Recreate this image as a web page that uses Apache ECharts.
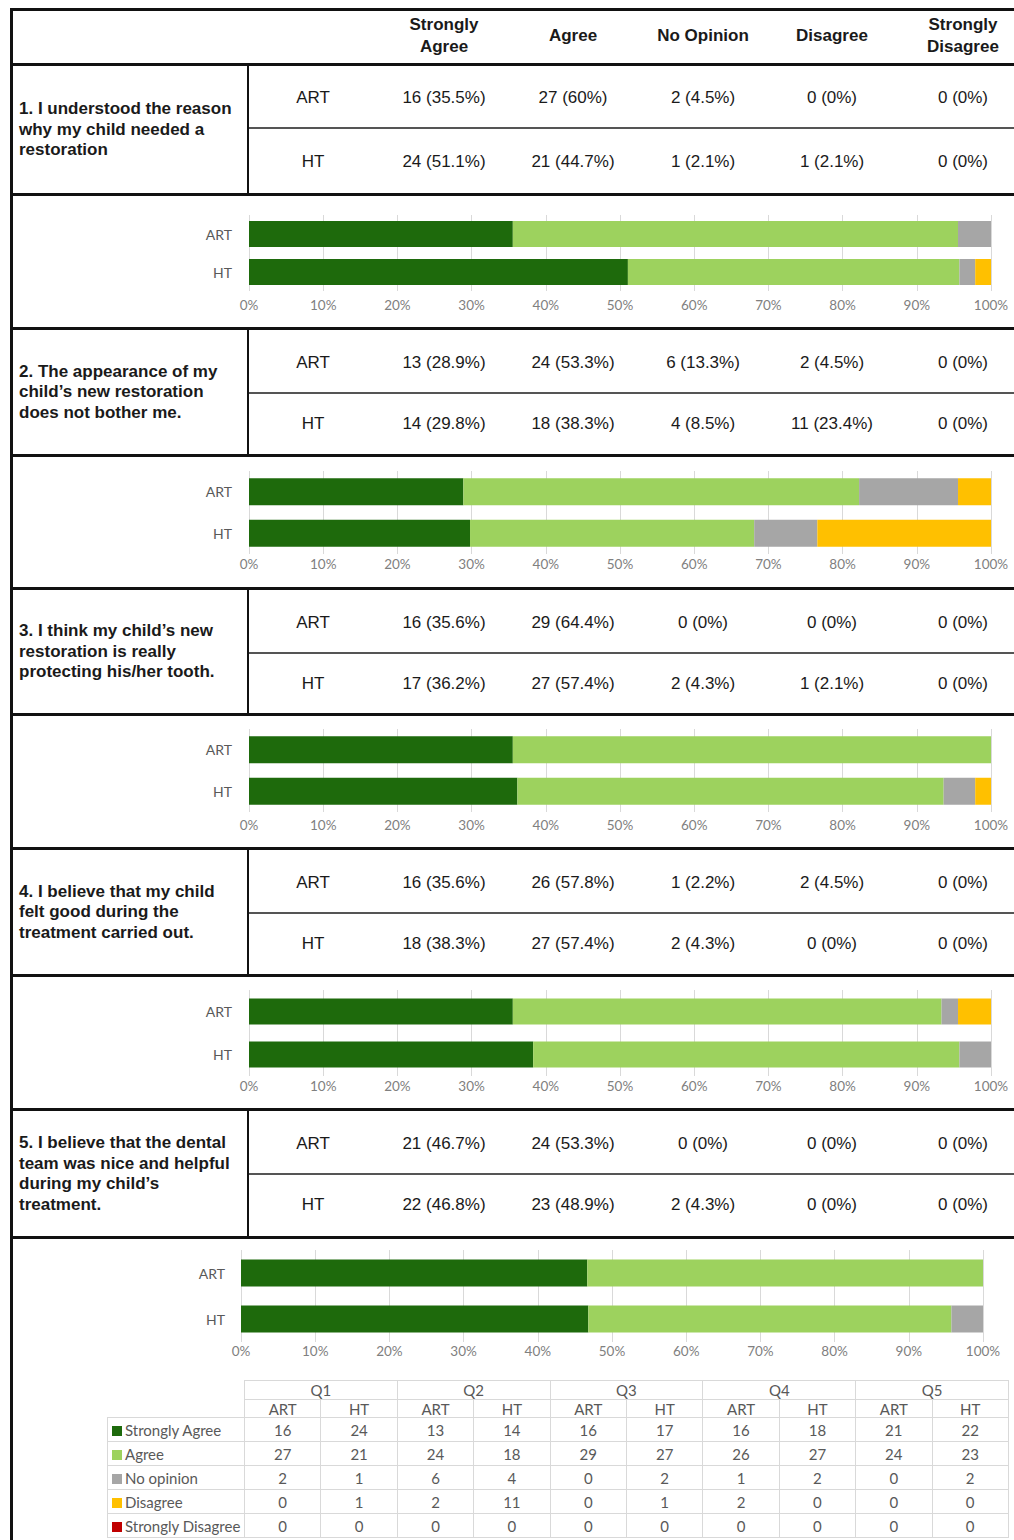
<!DOCTYPE html>
<html>
<head>
<meta charset="utf-8">
<title>Parents' satisfaction ART vs HT</title>
<script src="https://cdn.jsdelivr.net/npm/echarts@6/dist/echarts.min.js"></script>
<style>
body { margin: 0; background: #fff; }
#page {
  position: relative; width: 1014px; height: 1540px; overflow: hidden; background: #fff;
  font-family: "Liberation Sans", Arial, sans-serif; color: #1a1a1a;
}
.ln { position: absolute; background: #111; }
.t { position: absolute; text-align: center; white-space: pre; font-size: 17px; line-height: 22px; }
.hd { font-weight: bold; line-height: 22px; }
.q { position: absolute; display: flex; align-items: center; font-weight: bold; font-size: 17px; line-height: 20.5px; white-space: pre; }
#chart { position: absolute; left: 0; top: 0; width: 1014px; height: 1540px; }
.dt {
  position: absolute; left: 107px; top: 1380px; width: 901px; border-collapse: collapse; table-layout: fixed;
  font-family: Lato, "Open Sans", sans-serif; font-size: 15px; color: #595959;
}
.dt td { border: 1px solid #d9d9d9; padding: 0; text-align: center; vertical-align: middle; line-height: 16px; }
.dt td.blank { border: none; }
.dt td.lab { text-align: left; padding-left: 4px; white-space: nowrap; }
.sw { display: inline-block; width: 10px; height: 10px; margin-right: 3px; vertical-align: 0px; }
</style>
</head>
<body>
<div id="page">
  <div id="chart"></div>
</div>
<script>
// ---- data ----
const groups = ['ART', 'HT']
const answers = ['Strongly Agree', 'Agree', 'No opinion', 'Disagree', 'Strongly Disagree']
const headerLabels = ['Strongly\nAgree', 'Agree', 'No Opinion', 'Disagree', 'Strongly\nDisagree']
const questions = [
  '1. I understood the reason\nwhy my child needed a\nrestoration',
  '2. The appearance of my\nchild\u2019s new restoration\ndoes not bother me.',
  '3. I think my child\u2019s new\nrestoration is really\nprotecting his/her tooth.',
  '4. I believe that my child\nfelt good during the\ntreatment carried out.',
  '5. I believe that the dental\nteam was nice and helpful\nduring my child\u2019s\ntreatment.'
]
const qShort = ['Q1', 'Q2', 'Q3', 'Q4', 'Q5']
const artCounts = [[16, 27, 2, 0, 0], [13, 24, 6, 2, 0], [16, 29, 0, 0, 0], [16, 26, 1, 2, 0], [21, 24, 0, 0, 0]]
const htCounts = [[24, 21, 1, 1, 0], [14, 18, 4, 11, 0], [17, 27, 2, 1, 0], [18, 27, 2, 0, 0], [22, 23, 2, 0, 0]]
const artPct = [[35.5, 60, 4.5, 0, 0], [28.9, 53.3, 13.3, 4.5, 0], [35.6, 64.4, 0, 0, 0], [35.6, 57.8, 2.2, 4.5, 0], [46.7, 53.3, 0, 0, 0]]
const htPct = [[51.1, 44.7, 2.1, 2.1, 0], [29.8, 38.3, 8.5, 23.4, 0], [36.2, 57.4, 4.3, 2.1, 0], [38.3, 57.4, 4.3, 0, 0], [46.8, 48.9, 4.3, 0, 0]]
const colors = ['#1e6a0c', '#9dd25e', '#a6a6a6', '#ffc000', '#c00000']

// ---- layout ----
const colX = [444, 573, 703, 832, 963]
const groupX = 313
const blocks = [
  { top: 64, mid: 128, bot: 194, artY: 98, htY: 162, gTop: 215, gH: 76, barW: 26, lblM: 7, gLeft: 249, catM: 17 },
  { top: 328, mid: 393, bot: 455, artY: 363, htY: 424, gTop: 471, gH: 83, barW: 27, lblM: 3, gLeft: 249, catM: 17 },
  { top: 588, mid: 653, bot: 714, artY: 623, htY: 684, gTop: 729, gH: 83, barW: 27, lblM: 6, gLeft: 249, catM: 17 },
  { top: 848, mid: 913, bot: 975, artY: 883, htY: 944, gTop: 990, gH: 86, barW: 26, lblM: 3, gLeft: 249, catM: 17 },
  { top: 1109, mid: 1174, bot: 1237, artY: 1144, htY: 1205, gTop: 1250, gH: 92, barW: 27, lblM: 2, gLeft: 241, catM: 16 }
]
const chartBottoms = [328, 588, 848, 1109]

const page = document.getElementById('page')
function add(html) { page.insertAdjacentHTML('beforeend', html) }
function hline(y, x1, x2, h, c) { add(`<div class="ln" style="left:${x1}px;top:${y}px;width:${x2 - x1}px;height:${h}px;background:${c || '#111'}"></div>`) }
function vline(x, y1, y2, w, c) { add(`<div class="ln" style="left:${x}px;top:${y1}px;width:${w}px;height:${y2 - y1}px;background:${c || '#111'}"></div>`) }
function txt(cx, cy, s, cls, lines) {
  let h = (lines || 1) * 22
  add(`<div class="t ${cls || ''}" style="left:${cx - 100}px;width:200px;top:${cy - h / 2}px">${s}</div>`)
}

// frame
hline(8, 10, 1014, 3)
vline(10, 8, 1540, 3)
// header
headerLabels.forEach((h, i) => {
  let n = h.split('\n').length
  txt(colX[i], 36, h, 'hd', n)
})
// question blocks
blocks.forEach((b, i) => {
  hline(b.top - 1, 10, 1014, 3)
  hline(b.mid - 1, 248, 1014, 1.5, '#555')
  hline(b.bot - 1, 10, 1014, 3)
  vline(247, b.top, b.bot, 1.5)
  add(`<div class="q" style="left:19px;top:${b.top + 1}px;height:${b.bot - b.top}px">${questions[i]}</div>`)
  txt(groupX, b.artY, groups[0])
  txt(groupX, b.htY, groups[1])
  answers.forEach((a, k) => {
    txt(colX[k], b.artY, `${artCounts[i][k]} (${artPct[i][k]}%)`)
    txt(colX[k], b.htY, `${htCounts[i][k]} (${htPct[i][k]}%)`)
  })
})
chartBottoms.forEach(y => hline(y - 1, 10, 1014, 3))

// data table under the last chart
let tbl = '<table class="dt"><colgroup><col style="width:137px">' + '<col style="width:76.4px">'.repeat(10) + '</colgroup>'
tbl += '<tr style="height:19px"><td class="blank" rowspan="2"></td>' + qShort.map(q => `<td colspan="2">${q}</td>`).join('') + '</tr>'
tbl += '<tr style="height:18px">' + qShort.map(() => groups.map(g => `<td>${g}</td>`).join('')).join('') + '</tr>'
answers.forEach((a, k) => {
  tbl += `<tr style="height:24px"><td class="lab"><span class="sw" style="background:${colors[k]}"></span>${a}</td>`
  tbl += qShort.map((q, i) => `<td>${artCounts[i][k]}</td><td>${htCounts[i][k]}</td>`).join('') + '</tr>'
})
tbl += '</table>'
add(tbl)

// ---- charts ----
let chart = echarts.init(document.getElementById('chart'), null, { renderer: 'svg' })
let grid = [], xAxis = [], yAxis = [], series = []
blocks.forEach((b, i) => {
  grid.push({ left: b.gLeft, top: b.gTop, width: 742, height: b.gH })
  xAxis.push({
    type: 'value', gridIndex: i, min: 0, max: 100, interval: 10,
    axisLine: { show: false }, axisTick: { show: false },
    axisLabel: { formatter: '{value}%', margin: b.lblM, color: '#808080', fontFamily: 'Lato', fontSize: 13.5 },
    splitLine: { lineStyle: { color: '#d9d9d9', width: 1 } }
  })
  yAxis.push({
    type: 'category', gridIndex: i, inverse: true, data: groups,
    axisLine: { show: false }, axisTick: { show: false }, splitLine: { show: false },
    axisLabel: { margin: b.catM, color: '#595959', fontFamily: 'Lato', fontSize: 14 }
  })
  let artTotal = artCounts[i].reduce((s, v) => s + v, 0)
  let htTotal = htCounts[i].reduce((s, v) => s + v, 0)
  answers.forEach((a, k) => {
    series.push({
      type: 'bar', name: a, stack: 'q' + i, xAxisIndex: i, yAxisIndex: i,
      barWidth: b.barW, itemStyle: { color: colors[k] },
      data: [artCounts[i][k] / artTotal * 100, htCounts[i][k] / htTotal * 100]
    })
  })
})
chart.setOption({ animation: false, backgroundColor: 'transparent', grid, xAxis, yAxis, series })
</script>
</body>
</html>
